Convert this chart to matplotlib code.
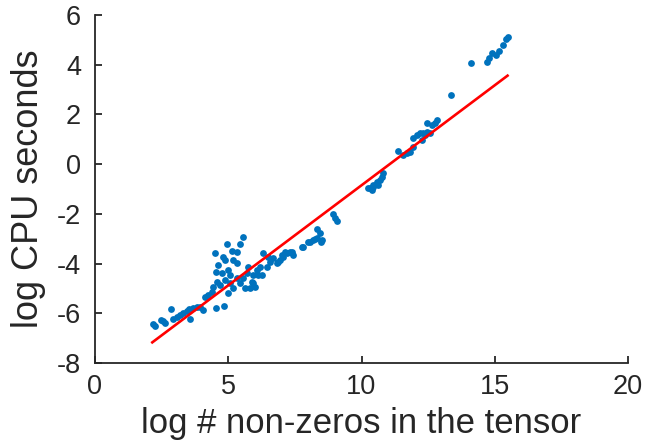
import matplotlib
matplotlib.use("Agg")
import matplotlib.pyplot as plt
import numpy as np

plt.rcParams['font.family'] = ['Liberation Sans', 'DejaVu Sans']
plt.rcParams['axes.unicode_minus'] = False

# log # non-zeros vs log CPU seconds
log_nnz = [2.16, 2.25, 2.46, 2.56, 2.64, 2.84, 2.91, 3.06, 3.19, 3.31, 3.44, 3.56, 3.54, 3.69,
           3.81, 3.94, 4.06, 4.14, 4.25, 4.38, 4.54, 4.84, 4.50, 4.94, 5.54, 5.44, 5.13, 5.34,
           4.79, 4.63, 4.88, 5.19, 5.32, 4.54, 4.75, 5.00, 5.07, 4.57, 4.69, 4.44, 4.88, 5.07,
           5.32, 5.19, 5.00, 5.44, 5.57, 5.69, 5.75, 5.63, 5.82, 6.00, 5.88, 5.94, 6.07, 6.26,
           6.32, 6.44, 6.57, 6.69, 6.82, 6.94, 7.07, 7.19, 7.32, 7.44, 7.75, 7.98,
           6.50, 6.88, 7.00, 7.13, 8.07, 8.19, 8.32, 8.44, 8.51, 6.19, 6.13, 5.94,
           7.38, 7.79, 8.26, 8.34, 8.47, 8.94, 9.01, 9.07,
           10.26, 10.32, 10.38, 10.44, 10.57, 10.63, 10.69, 10.76, 10.82, 10.44,
           11.38, 11.57, 11.69, 11.82, 11.94, 11.94, 12.07, 12.19, 12.26, 12.38, 12.44,
           12.57, 12.44, 12.63, 12.76, 12.82, 12.32, 13.35,
           14.12, 14.70, 14.80, 14.89, 15.06, 15.17, 15.30, 15.41, 15.49]
log_cpu = [-6.44, -6.51, -6.27, -6.30, -6.40, -5.84, -6.24, -6.14, -6.07, -5.98, -5.89, -6.22, -5.84, -5.80,
           -5.76, -5.76, -5.87, -5.36, -5.26, -5.13, -5.80, -5.69, -3.56, -3.21, -2.92, -3.21, -3.48, -3.52,
           -3.72, -4.06, -3.86, -3.86, -3.99, -4.32, -4.39, -4.26, -4.46, -4.73, -4.86, -4.93, -4.66, -4.79,
           -4.59, -5.00, -5.17, -4.79, -4.59, -4.39, -4.12, -5.00, -5.00, -4.93, -4.73, -4.46, -4.26, -4.46,
           -3.59, -4.12, -3.92, -3.79, -3.99, -3.86, -3.72, -3.59, -3.52, -3.65, -3.32, -3.12,
           -3.72, -3.92, -3.65, -3.52, -3.12, -3.05, -2.98, -2.78, -3.05, -4.12, -4.46, -4.79,
           -3.52, -3.32, -3.02, -2.62, -3.12, -2.00, -2.18, -2.27,
           -0.97, -0.97, -1.04, -0.84, -0.70, -0.84, -0.64, -0.50, -0.37, -0.91,
           0.54, 0.37, 0.44, 0.50, 0.70, 1.04, 1.17, 1.24, 0.97, 1.17, 1.31,
           1.24, 1.64, 1.57, 1.64, 1.78, 1.24, 2.77,
           4.06, 4.09, 4.26, 4.46, 4.39, 4.57, 4.79, 5.02, 5.11]

# fitted line endpoints
fit_x = [2.15, 15.48]
fit_y = [-7.17, 3.56]

fig = plt.figure(figsize=(6.47, 4.41), dpi=100)
ax = fig.add_axes([95/647, 1 - 363/441, (628-95)/647, (363-15)/441])

ax.scatter(log_nnz, log_cpu, s=24, color='#0072BD', zorder=2, linewidths=0)
ax.plot(fit_x, fit_y, color='red', lw=1.9, zorder=3)

ax.set_xlim(0, 20)
ax.set_ylim(-8, 6)
ax.set_xticks([0, 5, 10, 15, 20])
ax.set_yticks(np.arange(-8, 7, 2))
ax.spines['top'].set_visible(False)
ax.spines['right'].set_visible(False)
for s in ['left', 'bottom']:
    ax.spines[s].set_color('#262626')
    ax.spines[s].set_linewidth(1.3)
ax.tick_params(direction='in', length=5, width=1.3, colors='#262626', labelsize=19.5)
ax.tick_params(axis='y', pad=10)
ax.tick_params(axis='x', pad=8)
ax.set_xlabel('log # non-zeros in the tensor', fontsize=25, color='#262626', labelpad=5)
ax.set_ylabel('log CPU seconds', fontsize=26, color='#262626', labelpad=8)

fig.savefig('out.png', dpi=100)
